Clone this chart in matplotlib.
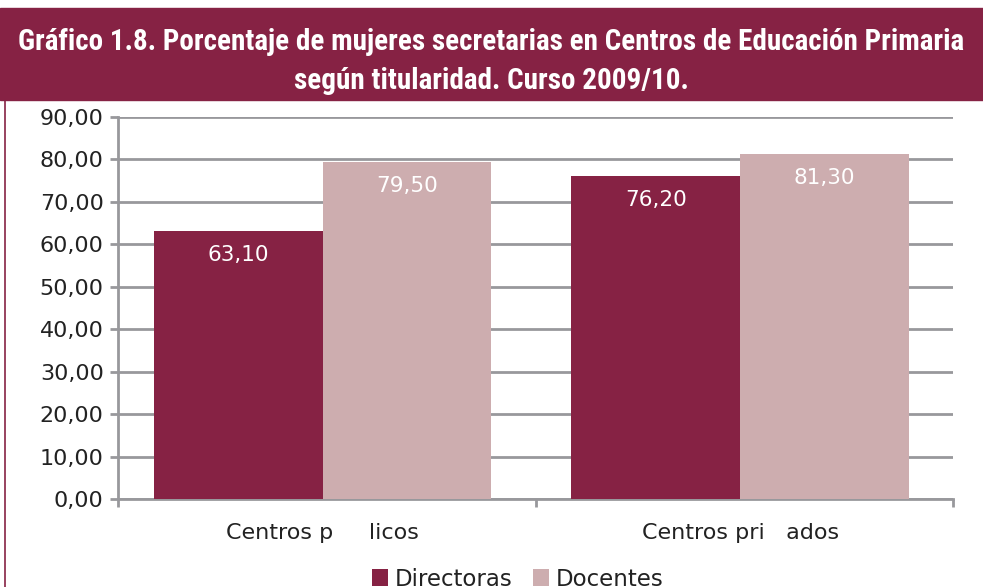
import numpy as np
import matplotlib.pyplot as plt
from matplotlib.patches import Rectangle

# Data
categories = ['Centros p     licos', 'Centros pri   ados']
directoras = [63.10, 76.20]
docentes = [79.50, 81.30]
series_names = ['Directoras', 'Docentes']
title_lines = ['Gráfico 1.8. Porcentaje de mujeres secretarias en Centros de Educación Primaria',
               'según titularidad. Curso 2009/10.']

maroon = '#862244'
rose = '#cdadaf'
grid_gray = '#98989c'
narrow = ['Roboto Condensed', 'IBM Plex Sans Condensed', 'DejaVu Sans']
body = ['DejaVu Sans']

fig = plt.figure(figsize=(9.83, 5.87), dpi=100)

# Title banner
fig.patches.append(Rectangle((0, 1 - 100 / 587), 1, 92 / 587, transform=fig.transFigure,
                             color=maroon, zorder=0))
fig.lines.append(plt.Line2D([5 / 983, 5 / 983], [0, 1 - 100 / 587], transform=fig.transFigure,
                            color=maroon, lw=1.2))
for line, yb in zip(title_lines, [50, 89]):
    fig.text(0.5, 1 - yb / 587, line, ha='center', va='baseline', color='white',
             fontsize=21, fontweight='bold', family=narrow)

ax = fig.add_axes([118 / 983, 1 - 499 / 587, (953 - 118) / 983, (499 - 117) / 587])
x = np.arange(len(categories))
w = 0.404
b1 = ax.bar(x - w / 2, directoras, w, color=maroon, label=series_names[0], zorder=3)
b2 = ax.bar(x + w / 2, docentes, w, color=rose, label=series_names[1], zorder=3)

for bars in (b1, b2):
    for r in bars:
        ax.text(r.get_x() + r.get_width() / 2, r.get_height() - 5.7,
                f'{r.get_height():.2f}'.replace('.', ','),
                ha='center', va='center', color='white', fontsize=15.5,
                family=body, zorder=4)

ax.set_xlim(-0.49, 1.51)
ax.set_ylim(0, 90)
ax.set_yticks(np.arange(0, 91, 10))
ax.set_yticklabels([f'{v:.2f}'.replace('.', ',') for v in np.arange(0, 91, 10)],
                   fontsize=16, family=body, color='#222222')
ax.yaxis.grid(True, color=grid_gray, lw=2.0, zorder=0)
ax.set_axisbelow(True)

ax.set_xticks([-0.49, 0.51, 1.51])
ax.set_xticklabels([])
ax.set_xticks(x, minor=True)
ax.set_xticklabels(categories, minor=True, fontsize=16, family=body, color='#222222')
ax.tick_params(axis='x', which='minor', length=0, pad=17)
ax.tick_params(axis='x', which='major', length=5.8, width=2.0, color=grid_gray)
ax.tick_params(axis='y', length=5.8, width=2.0, color=grid_gray, pad=4.5)

for s in ['top', 'right']:
    ax.spines[s].set_visible(False)
for s in ['left', 'bottom']:
    ax.spines[s].set_color(grid_gray)
    ax.spines[s].set_linewidth(2.0)

leg = fig.legend(handles=[b1, b2], loc='center', bbox_to_anchor=(0.5265, 1 - 579 / 587),
                 ncol=2, frameon=False, prop={'family': body, 'size': 16.5},
                 handlelength=0.7, handleheight=0.7, handletextpad=0.3, columnspacing=0.9)
for t in leg.get_texts():
    t.set_color('#222222')

fig.savefig('out.png', dpi=100)
